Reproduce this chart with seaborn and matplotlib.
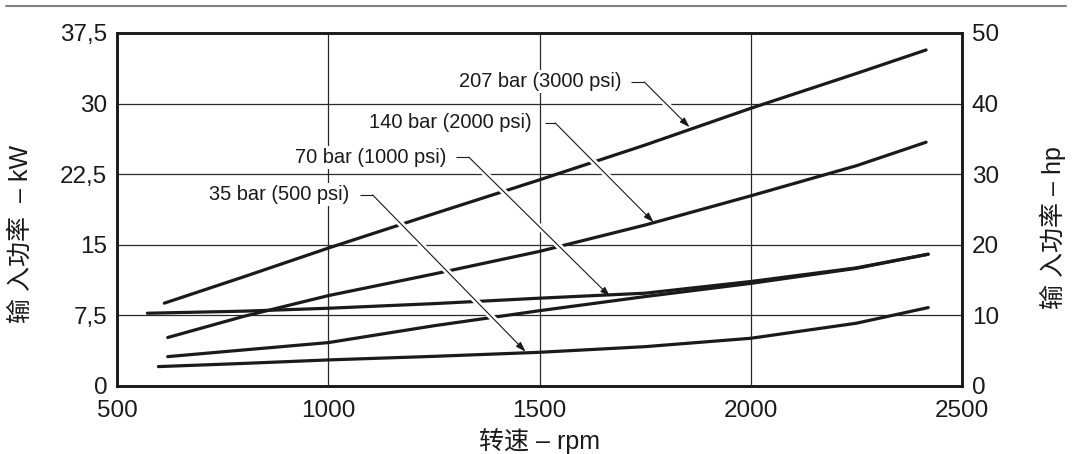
import numpy as np
import pandas as pd
import matplotlib
matplotlib.use("Agg")
import matplotlib.pyplot as plt
from matplotlib.lines import Line2D
import seaborn as sns

# ---------------- data ----------------
rpm_207 = [612, 800, 1000, 1250, 1500, 1750, 2000, 2250, 2415]
kw_207 = [8.8, 11.6, 14.65, 18.3, 21.9, 25.6, 29.5, 33.2, 35.7]

rpm_140 = [620, 800, 1000, 1250, 1500, 1750, 2000, 2250, 2415]
kw_140 = [5.15, 7.4, 9.6, 11.9, 14.3, 17.1, 20.2, 23.4, 25.9]

rpm_flat = [572, 800, 1000, 1250, 1500, 1750, 2000, 2250, 2420]
kw_flat = [7.73, 7.95, 8.26, 8.75, 9.33, 9.86, 11.1, 12.55, 14.0]

rpm_70 = [620, 800, 1000, 1250, 1500, 1750, 2000, 2250, 2420]
kw_70 = [3.12, 3.83, 4.61, 6.4, 8.0, 9.5, 10.9, 12.5, 14.0]

rpm_35 = [598, 800, 1000, 1250, 1500, 1750, 2000, 2250, 2420]
kw_35 = [2.06, 2.4, 2.77, 3.15, 3.58, 4.18, 5.07, 6.67, 8.33]

series_names = ["207 bar", "140 bar", "aux", "70 bar", "35 bar"]

label_texts = ["207 bar (3000 psi)", "140 bar (2000 psi)",
               "70 bar (1000 psi)", "35 bar (500 psi)"]
label_end_rpm = [1695, 1482, 1279, 1050]
label_kw = [32.3, 27.95, 24.3, 20.3]
leader_start_rpm = [1717, 1512, 1302, 1074]
leader_end_rpm = [1748, 1537, 1333, 1105]
tip_rpm = [1855, 1770, 1667, 1467]
tip_kw = [27.5, 17.4, 9.5, 3.65]

x_ticks = [500, 1000, 1500, 2000, 2500]
kw_ticks = [0, 7.5, 15, 22.5, 30, 37.5]
kw_tick_labels = ["0", "7,5", "15", "22,5", "30", "37,5"]
hp_ticks = [0, 10, 20, 30, 40, 50]

x_label = "转速 – rpm"
y_label_left = "输 入功率  – kW"
y_label_right = "输 入功率 – hp"

# ---------------- build long-form frame ----------------
frames = []
for name, r, k in zip(series_names,
                      [rpm_207, rpm_140, rpm_flat, rpm_70, rpm_35],
                      [kw_207, kw_140, kw_flat, kw_70, kw_35]):
    frames.append(pd.DataFrame({"rpm": r, "kW": k, "curve": name}))
df = pd.concat(frames, ignore_index=True)

# ---------------- style ----------------
sns.set_theme(style="white")
plt.rcParams["font.family"] = ["Liberation Sans", "Noto Sans CJK SC"]
ink = "#1a1a1a"
plt.rcParams["text.color"] = ink
plt.rcParams["axes.labelcolor"] = ink
plt.rcParams["xtick.color"] = ink
plt.rcParams["ytick.color"] = ink

fig = plt.figure(figsize=(10.72, 4.54), dpi=100)
fig.patch.set_facecolor("white")
ax = fig.add_axes([117 / 1072, 1 - 386 / 454, 845 / 1072, 353 / 454])

sns.lineplot(data=df, x="rpm", y="kW", units="curve", estimator=None,
             sort=False, color=ink, linewidth=2.3, ax=ax, zorder=2,
             legend=False)

ax.set_xlim(500, 2500)
ax.set_ylim(0, 37.5)
ax.set_xticks(x_ticks)
ax.set_xticklabels([str(t) for t in x_ticks])
ax.set_yticks(kw_ticks)
ax.set_yticklabels(kw_tick_labels)
ax.tick_params(axis="both", length=0, labelsize=17.5)
ax.tick_params(axis="y", pad=7)
ax.tick_params(axis="x", pad=10)

# grid
for t in kw_ticks[1:-1]:
    ax.axhline(t, color="#2a2a2a", lw=0.9, zorder=0.5)
for t in x_ticks[1:-1]:
    ax.axvline(t, color="#2a2a2a", lw=0.9, zorder=0.5)

for s in ax.spines.values():
    s.set_linewidth(1.9)
    s.set_color(ink)
    s.set_visible(True)

ax.set_xlabel(x_label, fontsize=18)
ax.xaxis.set_label_coords(0.5, -0.12)
ax.set_ylabel(y_label_left, fontsize=18)
ax.yaxis.set_label_coords(-0.100, 0.43)

# right axis (hp)
ax2 = ax.twinx()
ax2.set_ylim(0, 50)
ax2.set_yticks(hp_ticks)
ax2.set_yticklabels([str(t) for t in hp_ticks])
ax2.tick_params(axis="y", length=0, labelsize=17.5, pad=7)
ax2.grid(False)
for s in ax2.spines.values():
    s.set_linewidth(1.9)
    s.set_color(ink)
ax2.set_ylabel(y_label_right, fontsize=18)
ax2.yaxis.set_label_coords(1.092, 0.45)

# annotations with white halos to break crossed lines
fig.canvas.draw()
tr = ax.transData
inv = tr.inverted()
for txt, xe, yk, xs, xl, xt, yt in zip(label_texts, label_end_rpm, label_kw,
                                       leader_start_rpm, leader_end_rpm,
                                       tip_rpm, tip_kw):
    ax.text(xe, yk, txt, ha="right", va="center", fontsize=14.4, color=ink,
            zorder=5, bbox=dict(facecolor="white", edgecolor="none", pad=1.5))
    ax.plot([xs, xl], [yk, yk], color=ink, lw=0.8, zorder=4,
            solid_capstyle="butt")
    p0 = np.array(tr.transform((xl, yk)))
    p1 = np.array(tr.transform((xt, yt)))
    length = np.hypot(*(p1 - p0))
    f = 1 - 12.0 / length
    pe_end = inv.transform(p0 + f * (p1 - p0))
    ax.plot([xl, pe_end[0]], [yk, pe_end[1]], color="white", lw=4.5,
            zorder=3, solid_capstyle="butt")
    ax.annotate("", xy=(xt, yt), xytext=(xl, yk),
                arrowprops=dict(arrowstyle="-|>,head_length=0.6,head_width=0.2",
                                color=ink, lw=0.8, shrinkA=0, shrinkB=0,
                                mutation_scale=10),
                zorder=4)

# top rule across figure
fig.add_artist(Line2D([6 / 1072, 1066 / 1072], [1 - 6 / 454, 1 - 6 / 454],
                      color="#808080", lw=1.5, transform=fig.transFigure))

fig.savefig("out.png", dpi=100, facecolor="white")
